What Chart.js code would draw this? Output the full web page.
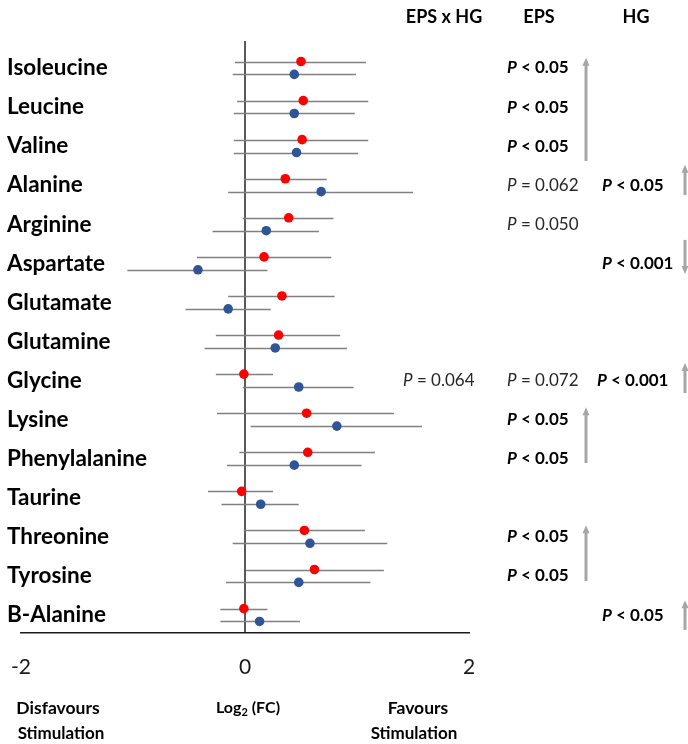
<!DOCTYPE html>
<html>
<head>
<meta charset="utf-8">
<script src="https://cdn.jsdelivr.net/npm/chart.js@4.4.1/dist/chart.umd.min.js"></script>
<style>
  html, body { margin: 0; padding: 0; background: #ffffff; }
  #wrap { width: 688px; height: 744px; position: relative; }
</style>
</head>
<body>
<div id="wrap"><canvas id="forest" width="688" height="744"></canvas></div>
<script>
// Amino acids, top to bottom
const aminoAcids = ['Isoleucine', 'Leucine', 'Valine', 'Alanine', 'Arginine', 'Aspartate', 'Glutamate',
  'Glutamine', 'Glycine', 'Lysine', 'Phenylalanine', 'Taurine', 'Threonine', 'Tyrosine', 'B-Alanine'];

// Log2 fold change with confidence limits, first group (red)
const redMean = [0.50, 0.52, 0.51, 0.36, 0.39, 0.17, 0.33, 0.30, -0.01, 0.55, 0.56, -0.03, 0.53, 0.62, -0.01];
const redLow  = [-0.09, -0.07, -0.10, -0.01, -0.02, -0.43, -0.15, -0.26, -0.26, -0.25, -0.05, -0.33, -0.01, 0.01, -0.22];
const redHigh = [1.08, 1.10, 1.10, 0.73, 0.79, 0.77, 0.80, 0.85, 0.25, 1.33, 1.16, 0.25, 1.07, 1.24, 0.20];

// Log2 fold change with confidence limits, second group (blue)
const blueMean = [0.44, 0.44, 0.46, 0.68, 0.19, -0.42, -0.15, 0.27, 0.48, 0.82, 0.44, 0.14, 0.58, 0.48, 0.13];
const blueLow  = [-0.11, -0.10, -0.10, -0.15, -0.29, -1.05, -0.53, -0.36, -0.02, 0.05, -0.16, -0.21, -0.11, -0.17, -0.22];
const blueHigh = [0.99, 0.98, 1.01, 1.50, 0.66, 0.20, 0.23, 0.91, 0.97, 1.58, 1.04, 0.48, 1.27, 1.12, 0.49];

// x-axis tick labels
const xTicks = [-2, 0, 2];

// Column headers of the statistics table
const statColumns = ['EPS x HG', 'EPS', 'HG'];

// P values per amino acid row and column
const pValues = [
  { row: 0,  col: 'EPS', text: 'P < 0.05',  bold: true },
  { row: 1,  col: 'EPS', text: 'P < 0.05',  bold: true },
  { row: 2,  col: 'EPS', text: 'P < 0.05',  bold: true },
  { row: 3,  col: 'EPS', text: 'P = 0.062', bold: false },
  { row: 3,  col: 'HG',  text: 'P < 0.05',  bold: true },
  { row: 4,  col: 'EPS', text: 'P = 0.050', bold: false },
  { row: 5,  col: 'HG',  text: 'P < 0.001', bold: true },
  { row: 8,  col: 'EPS x HG', text: 'P = 0.064', bold: false },
  { row: 8,  col: 'EPS', text: 'P = 0.072', bold: false },
  { row: 8,  col: 'HG',  text: 'P < 0.001', bold: true },
  { row: 9,  col: 'EPS', text: 'P < 0.05',  bold: true },
  { row: 10, col: 'EPS', text: 'P < 0.05',  bold: true },
  { row: 12, col: 'EPS', text: 'P < 0.05',  bold: true },
  { row: 13, col: 'EPS', text: 'P < 0.05',  bold: true },
  { row: 14, col: 'HG',  text: 'P < 0.05',  bold: true }
];

// Direction arrows next to significant effects (extent in row units)
const effectArrows = [
  { col: 'EPS', top: -0.26, bottom: 2.38, dir: 'up' },
  { col: 'EPS', top: 8.68,  bottom: 10.11, dir: 'up' },
  { col: 'EPS', top: 11.70, bottom: 13.13, dir: 'up' },
  { col: 'HG',  top: 2.48,  bottom: 3.25, dir: 'up' },
  { col: 'HG',  top: 4.40,  bottom: 5.27, dir: 'down' },
  { col: 'HG',  top: 7.55,  bottom: 8.32, dir: 'up' },
  { col: 'HG',  top: 13.62, bottom: 14.38, dir: 'up' }
];

const FONT = 'Lato, "Open Sans", sans-serif';
const ROW_OFFSET = 0.165;

function points(means, offset) {
  return means.map((v, i) => ({ x: v, y: i + offset }));
}

// Horizontal confidence-interval lines, drawn under the points
const errorBars = {
  id: 'errorBars',
  beforeDatasetsDraw(chart) {
    const { ctx, scales: { x, y } } = chart;
    ctx.save();
    ctx.strokeStyle = '#808080';
    ctx.lineWidth = 1.5;
    chart.data.datasets.forEach(ds => {
      ds.data.forEach((p, i) => {
        const py = Math.round(y.getPixelForValue(p.y)) + 0.5;
        ctx.beginPath();
        ctx.moveTo(x.getPixelForValue(ds.errLow[i]), py);
        ctx.lineTo(x.getPixelForValue(ds.errHigh[i]), py);
        ctx.stroke();
      });
    });
    ctx.restore();
  }
};

function drawPText(ctx, str, xLeft, yMid, bold, size) {
  const w = bold ? 'bold ' : '';
  ctx.textAlign = 'left';
  ctx.textBaseline = 'middle';
  ctx.font = 'italic ' + w + size + 'px ' + FONT;
  ctx.fillText('P', xLeft, yMid);
  const pw = ctx.measureText('P').width;
  ctx.font = w + size + 'px ' + FONT;
  ctx.fillText(str.slice(1), xLeft + pw, yMid);
}

// Row names, statistics table, arrows and axis captions
const annotations = {
  id: 'annotations',
  afterDraw(chart) {
    const { ctx, scales: { x, y } } = chart;
    ctx.save();

    // Row names
    ctx.fillStyle = '#000000';
    ctx.font = 'bold 22.5px ' + FONT;
    ctx.textAlign = 'left';
    ctx.textBaseline = 'middle';
    aminoAcids.forEach((name, i) => ctx.fillText(name, 7, y.getPixelForValue(i)));

    // Column headers
    const headerX = { 'EPS x HG': 444, 'EPS': 539, 'HG': 636 };
    ctx.font = 'bold 18px ' + FONT;
    ctx.textAlign = 'center';
    statColumns.forEach(c => ctx.fillText(c, headerX[c], 17));

    // P values
    const textLeft = { 'EPS x HG': 403, 'EPS': 507, 'HG': 602 };
    pValues.forEach(p => {
      ctx.fillStyle = p.bold ? '#000000' : '#262626';
      let left = textLeft[p.col];
      if (p.col === 'HG' && p.row === 8) left -= 5;
      drawPText(ctx, p.text, left, y.getPixelForValue(p.row), p.bold, 17);
    });

    // Arrows
    const arrowX = { 'EPS': 586, 'HG': 685 };
    ctx.strokeStyle = '#a6a6a6';
    ctx.fillStyle = '#a6a6a6';
    ctx.lineWidth = 3;
    effectArrows.forEach(a => {
      const ax = arrowX[a.col];
      const t = y.getPixelForValue(a.top);
      const b = y.getPixelForValue(a.bottom);
      const head = 8;
      ctx.beginPath();
      if (a.dir === 'up') {
        ctx.moveTo(ax, b); ctx.lineTo(ax, t + head - 1);
      } else {
        ctx.moveTo(ax, t); ctx.lineTo(ax, b - head + 1);
      }
      ctx.stroke();
      ctx.beginPath();
      if (a.dir === 'up') {
        ctx.moveTo(ax, t); ctx.lineTo(ax - 3.5, t + head); ctx.lineTo(ax + 3.5, t + head);
      } else {
        ctx.moveTo(ax, b); ctx.lineTo(ax - 3.5, b - head); ctx.lineTo(ax + 3.5, b - head);
      }
      ctx.closePath();
      ctx.fill();
    });

    // Axis captions
    ctx.fillStyle = '#000000';
    ctx.font = 'bold 17.5px ' + FONT;
    ctx.textAlign = 'center';
    ctx.textBaseline = 'middle';
    ctx.fillText('Disfavours', 58, 708);
    ctx.fillText('Favours', 418, 708);
    ctx.font = 'bold 17px ' + FONT;
    ctx.fillText('Stimulation', 61, 734);
    ctx.fillText('Stimulation', 414, 734);

    // Log2 (FC) with subscript
    const cx = x.getPixelForValue(0) + 3;
    ctx.font = 'bold 16px ' + FONT;
    const w1 = ctx.measureText('Log').width;
    const w3 = ctx.measureText(' (FC)').width;
    ctx.font = 'bold 11px ' + FONT;
    const w2 = ctx.measureText('2').width;
    let sx = cx - (w1 + w2 + w3) / 2;
    ctx.textAlign = 'left';
    ctx.font = 'bold 16px ' + FONT;
    ctx.fillText('Log', sx, 708);
    ctx.font = 'bold 11px ' + FONT;
    ctx.fillText('2', sx + w1, 712);
    ctx.font = 'bold 16px ' + FONT;
    ctx.fillText(' (FC)', sx + w1 + w2, 708);

    ctx.restore();
  }
};

new Chart(document.getElementById('forest'), {
  type: 'scatter',
  data: {
    datasets: [
      {
        label: 'Group A',
        data: points(redMean, -ROW_OFFSET),
        errLow: redLow, errHigh: redHigh,
        backgroundColor: '#ff0000', borderWidth: 0,
        pointRadius: 4.8, pointHoverRadius: 4.8
      },
      {
        label: 'Group B',
        data: points(blueMean, ROW_OFFSET),
        errLow: blueLow, errHigh: blueHigh,
        backgroundColor: '#2f5597', borderWidth: 0,
        pointRadius: 4.8, pointHoverRadius: 4.8
      }
    ]
  },
  options: {
    responsive: false,
    animation: false,
    devicePixelRatio: 1,
    layout: { padding: { left: 21, right: 219, top: 41, bottom: 0 } },
    plugins: { legend: { display: false }, tooltip: { enabled: false } },
    scales: {
      x: {
        type: 'linear',
        min: xTicks[0], max: xTicks[xTicks.length - 1],
        afterBuildTicks: s => { s.ticks = xTicks.map(v => ({ value: v })); },
        afterFit: s => { s.height = 111; s.paddingLeft = 0; s.paddingRight = 0; },
        ticks: { color: '#1a1a1a', font: { family: FONT, size: 21 }, padding: 22, maxRotation: 0 },
        grid: {
          drawTicks: false,
          lineWidth: 2,
          color: c => (c.tick && c.tick.value === 0) ? '#595959' : 'rgba(0,0,0,0)'
        },
        border: { display: true, color: '#1a1a1a', width: 1.5 }
      },
      y: {
        type: 'linear',
        display: false,
        reverse: true,
        min: -0.69, max: 14.46
      }
    }
  },
  plugins: [errorBars, annotations]
});
</script>
</body>
</html>
